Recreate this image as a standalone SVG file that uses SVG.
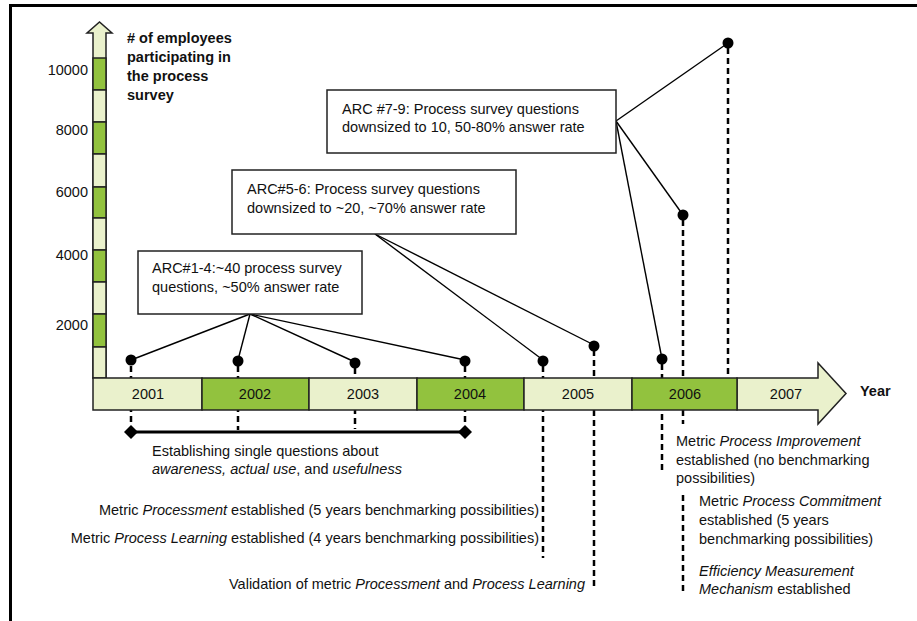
<svg xmlns="http://www.w3.org/2000/svg" width="917" height="621" viewBox="0 0 917 621">
<style>
.t{font-family:"Liberation Sans",Arial,sans-serif;font-size:14.5px;fill:#111}
.b{font-weight:bold}
.i{font-style:italic}
.lt{fill:#EAF1CC;stroke:#222;stroke-width:1.5}
.gr{fill:#92C23E;stroke:#222;stroke-width:1.5}
.dash{stroke:#000;stroke-width:2.5;stroke-dasharray:6 4;fill:none}
.ln{stroke:#000;stroke-width:1.4;fill:none}
.box{fill:#fff;stroke:#222;stroke-width:1.5}
.dot{fill:#000}
</style>
<rect width="917" height="621" fill="#fff"/>
<g id="frame">
<line x1="10" y1="5.5" x2="917" y2="5.5" stroke="#000" stroke-width="3"/>
<line x1="10.5" y1="4" x2="10.5" y2="621" stroke="#000" stroke-width="3"/>
</g>
<g id="connectors">
<line class="dash" x1="131" y1="366" x2="131" y2="426"/>
<line class="dash" x1="238" y1="366" x2="238" y2="430"/>
<line class="dash" x1="355" y1="368" x2="355" y2="429"/>
<line class="dash" x1="465" y1="366" x2="465" y2="426"/>
<line class="dash" x1="543" y1="366" x2="543" y2="558"/>
<line class="dash" x1="594" y1="350" x2="594" y2="590"/>
<line class="dash" x1="662" y1="364" x2="662" y2="473"/>
<line class="dash" x1="683" y1="220" x2="683" y2="424"/>
<line class="dash" x1="683" y1="495" x2="683" y2="593"/>
<line class="dash" x1="728" y1="48" x2="728" y2="378"/>
<line class="ln" x1="250" y1="314" x2="131" y2="360"/>
<line class="ln" x1="250" y1="314" x2="238" y2="360"/>
<line class="ln" x1="250" y1="314" x2="355" y2="362"/>
<line class="ln" x1="250" y1="314" x2="465" y2="360"/>
<line class="ln" x1="375" y1="234" x2="543" y2="360"/>
<line class="ln" x1="375" y1="234" x2="594" y2="345"/>
<line class="ln" x1="616" y1="121" x2="728" y2="43"/>
<line class="ln" x1="616" y1="121" x2="683" y2="215"/>
<line class="ln" x1="616" y1="121" x2="662" y2="359"/>
<line x1="131" y1="432" x2="465" y2="432" stroke="#000" stroke-width="3"/>
<polygon points="131,425 138,432 131,439 124,432" fill="#000"/>
<polygon points="465,425 472,432 465,439 458,432" fill="#000"/>
</g>
<g id="y-axis">
<polygon class="lt" points="93,378 93,33 87,33 99.5,22 112,33 106,33 106,378"/>
<rect class="gr" x="93" y="58" width="13" height="32"/>
<rect class="lt" x="93" y="90" width="13" height="32"/>
<rect class="gr" x="93" y="122" width="13" height="32"/>
<rect class="lt" x="93" y="154" width="13" height="33"/>
<rect class="gr" x="93" y="187" width="13" height="31"/>
<rect class="lt" x="93" y="218" width="13" height="32"/>
<rect class="gr" x="93" y="250" width="13" height="32"/>
<rect class="lt" x="93" y="282" width="13" height="32"/>
<rect class="gr" x="93" y="314" width="13" height="33"/>
<rect class="lt" x="93" y="347" width="13" height="31"/>
<text class="t" x="88" y="75" text-anchor="end">10000</text>
<text class="t" x="88" y="135" text-anchor="end">8000</text>
<text class="t" x="88" y="197" text-anchor="end">6000</text>
<text class="t" x="88" y="260" text-anchor="end">4000</text>
<text class="t" x="88" y="330" text-anchor="end">2000</text>
<text class="t b" x="127" y="43">
<tspan x="127" y="43"># of employees</tspan>
<tspan x="127" y="62">participating in</tspan>
<tspan x="127" y="81">the process</tspan>
<tspan x="127" y="100">survey</tspan>
</text>
</g>
<g id="timeline">
<polygon class="lt" points="737,378 818,378 818,363 846,393.5 818,424 818,410 737,410"/>
<rect class="lt" x="93" y="378" width="109" height="32"/>
<rect class="gr" x="202" y="378" width="107" height="32"/>
<rect class="lt" x="309" y="378" width="108" height="32"/>
<rect class="gr" x="417" y="378" width="107" height="32"/>
<rect class="lt" x="524" y="378" width="108" height="32"/>
<rect class="gr" x="632" y="378" width="105" height="32"/>
<text class="t" x="148" y="399" text-anchor="middle">2001</text>
<text class="t" x="255" y="399" text-anchor="middle">2002</text>
<text class="t" x="363" y="399" text-anchor="middle">2003</text>
<text class="t" x="470" y="399" text-anchor="middle">2004</text>
<text class="t" x="578" y="399" text-anchor="middle">2005</text>
<text class="t" x="685" y="399" text-anchor="middle">2006</text>
<text class="t" x="786" y="399" text-anchor="middle">2007</text>
<text class="t b" x="860" y="396">Year</text>
</g>
<g id="dots">
<circle class="dot" cx="131" cy="360" r="5.5"/>
<circle class="dot" cx="238" cy="361" r="5.5"/>
<circle class="dot" cx="355" cy="363" r="5.5"/>
<circle class="dot" cx="465" cy="361" r="5.5"/>
<circle class="dot" cx="543" cy="361" r="5.5"/>
<circle class="dot" cx="594" cy="346" r="5.5"/>
<circle class="dot" cx="662" cy="359" r="5.5"/>
<circle class="dot" cx="683" cy="215" r="5.5"/>
<circle class="dot" cx="728" cy="43" r="5.5"/>
</g>
<g id="arc1-4">
<rect class="box" x="138" y="251" width="224" height="63"/>
<text class="t" x="152" y="273">ARC#1-4:~40 process survey</text>
<text class="t" x="152" y="292">questions, ~50% answer rate</text>
</g>
<g id="arc5-6">
<rect class="box" x="232" y="170" width="284" height="64"/>
<text class="t" x="247" y="194">ARC#5-6: Process survey questions</text>
<text class="t" x="247" y="213">downsized to ~20, ~70% answer rate</text>
</g>
<g id="arc7-9">
<rect class="box" x="327" y="90" width="289" height="63"/>
<text class="t" x="342" y="114">ARC #7-9: Process survey questions</text>
<text class="t" x="342" y="132">downsized to 10, 50-80% answer rate</text>
</g>
<g id="note-establishing">
<text class="t" x="152" y="456">Establishing single questions about</text>
<text class="t" x="152" y="474"><tspan class="i">awareness, actual use</tspan>, and <tspan class="i">usefulness</tspan></text>
</g>
<g id="note-processment">
<text class="t" x="539" y="515" text-anchor="end">Metric <tspan class="i">Processment</tspan> established (5 years benchmarking possibilities)</text>
</g>
<g id="note-learning">
<text class="t" x="539" y="543" text-anchor="end">Metric <tspan class="i">Process Learning</tspan> established (4 years benchmarking possibilities)</text>
</g>
<g id="note-validation">
<text class="t" x="585" y="589" text-anchor="end">Validation of metric <tspan class="i">Processment</tspan> and <tspan class="i">Process Learning</tspan></text>
</g>
<g id="note-improvement">
<text class="t" x="676" y="446">Metric <tspan class="i">Process Improvement</tspan></text>
<text class="t" x="676" y="465">established (no benchmarking</text>
<text class="t" x="676" y="483">possibilities)</text>
</g>
<g id="note-commitment">
<text class="t" x="699" y="506">Metric <tspan class="i">Process Commitment</tspan></text>
<text class="t" x="699" y="525">established (5 years</text>
<text class="t" x="699" y="544">benchmarking possibilities)</text>
</g>
<g id="note-efficiency">
<text class="t" x="699" y="576"><tspan class="i">Efficiency Measurement</tspan></text>
<text class="t" x="699" y="594"><tspan class="i">Mechanism</tspan> established</text>
</g>
</svg>
